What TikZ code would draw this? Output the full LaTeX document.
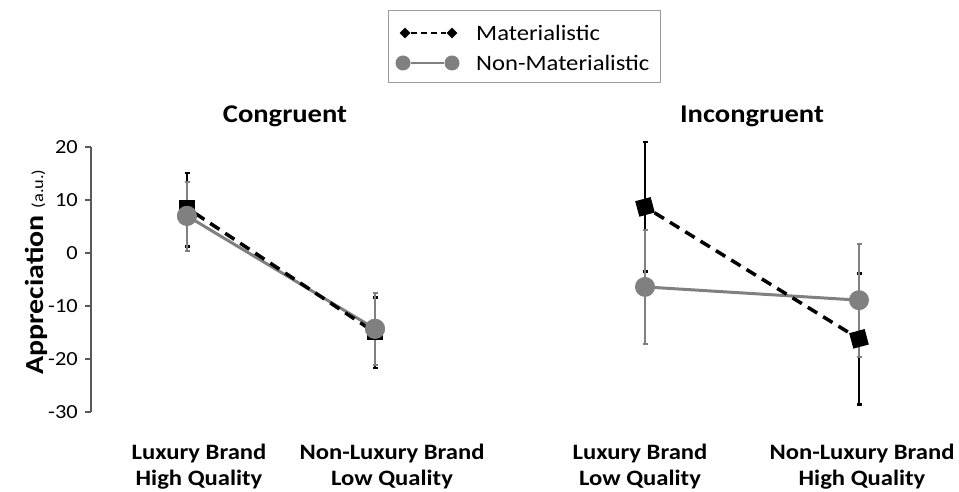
\documentclass[tikz,border=0pt]{standalone}
\usepackage{fontspec}
\setmainfont{Carlito}
\usetikzlibrary{shapes.geometric}

\definecolor{seriesgray}{RGB}{128,128,128}
\definecolor{axisgray}{RGB}{89,89,89}

% error bar with small caps: style, x, low, high
\newcommand{\errbar}[4]{\draw[#1] (#2,#3) -- (#2,#4) (#2,#3) +(-2.5,0) -- +(2.5,0) (#2,#4) +(-2.5,0) -- +(2.5,0);}

\tikzset{
  matline/.style={black, line width=3.5pt, dash pattern=on 11pt off 7pt},
  nonline/.style={seriesgray, line width=3pt},
  matsq/.style={rectangle, fill=black, minimum size=16pt, inner sep=0pt},
  noncirc/.style={circle, fill=seriesgray, minimum size=20pt, inner sep=0pt},
  matbar/.style={black, line width=2.5pt},
  nonbar/.style={seriesgray, line width=2pt},
  wide/.style={xscale=1.12},
  ticklab/.style={wide, anchor=east, inner sep=0pt, font=\fontsize{20}{20}\selectfont},
  paneltitle/.style={wide, font=\bfseries\fontsize{25.5}{26}\selectfont},
  catlab/.style={wide, align=center, font=\bfseries\fontsize{22}{26}\selectfont},
  legtext/.style={wide, anchor=west, inner sep=0pt, font=\fontsize{22}{22}\selectfont},
}

\begin{document}
\begin{tikzpicture}[x=1pt,y=1pt]
  \useasboundingbox (0,0) rectangle (959,492);

  % legend
  \draw[seriesgray!80, line width=0.8pt] (388,410) rectangle (660,482);
  \node[diamond, fill=black, minimum size=11pt, inner sep=0pt] (lm1) at (405,459) {};
  \node[diamond, fill=black, minimum size=11pt, inner sep=0pt] (lm2) at (452,459) {};
  \draw[black, line width=2.5pt, dash pattern=on 6pt off 4pt] (lm1) -- (lm2);
  \node[legtext] (lmt) at (476,459) {Materialistic};
  \node[circle, fill=seriesgray, minimum size=15pt, inner sep=0pt] (ln1) at (403,429) {};
  \node[circle, fill=seriesgray, minimum size=15pt, inner sep=0pt] (ln2) at (452,429) {};
  \draw[seriesgray, line width=2.5pt] (ln1) -- (ln2);
  \node[legtext] (lnt) at (476,429) {Non-Materialistic};

  % titles and labels
  \node[paneltitle] (tcon) at (285,376) {Congruent};
  \node[paneltitle] (tinc) at (752,376) {Incongruent};
  \node[rotate=90, xscale=1.15] (ylab) at (36,220) {\bfseries\fontsize{26}{26}\selectfont Appreciation \mdseries\fontsize{16}{16}\selectfont(a.u.)};
  \node[catlab] (c1) at (199,25) {Luxury Brand\\High Quality};
  \node[catlab] (c2) at (392,25) {Non-Luxury Brand\\Low Quality};
  \node[catlab] (c3) at (640,25) {Luxury Brand\\Low Quality};
  \node[catlab] (c4) at (862,25) {Non-Luxury Brand\\High Quality};

  \begin{scope}[shift={(0,239)}, y=5.3pt]
    % axis
    \draw[axisgray, line width=1.2pt] (91,20) -- (91,-30);
    \foreach \v in {20,10,0,-10,-20,-30}{
      \draw[axisgray, line width=1.2pt] (85,\v) -- (91,\v);
      \node[ticklab] at (78,\v) {\v};
    }

    % error bars
    \errbar{matbar}{187}{1.2}{15.1}
    \errbar{matbar}{375}{-21.7}{-8.4}
    \errbar{matbar}{645}{-3.5}{20.9}
    \errbar{matbar}{859}{-28.6}{-3.9}
    \errbar{nonbar}{187}{0.4}{13.4}
    \errbar{nonbar}{375}{-21.1}{-7.5}
    \errbar{nonbar}{645}{-17.1}{4.3}
    \errbar{nonbar}{859}{-19.6}{1.7}

    % points
    \node[matsq] (m1) at (187,8.5) {};
    \node[matsq] (m2) at (375,-15) {};
    \node[matsq, rotate=15] (m3) at (645,8.7) {};
    \node[matsq, rotate=15] (m4) at (859,-16.2) {};
    \node[noncirc] (n1) at (187,7) {};
    \node[noncirc] (n2) at (375,-14.3) {};
    \node[noncirc] (n3) at (645,-6.4) {};
    \node[noncirc] (n4) at (859,-8.9) {};

    \draw[nonline] (n1.center) -- (n2.center);
    \draw[nonline] (n3.center) -- (n4.center);
    \draw[matline] (m1) -- (m2);
    \draw[matline] (m3) -- (m4);
    % circles on top on the left
    \node[noncirc] at (n1) {};
    \node[noncirc] at (n2) {};
  \end{scope}
\end{tikzpicture}
\end{document}
